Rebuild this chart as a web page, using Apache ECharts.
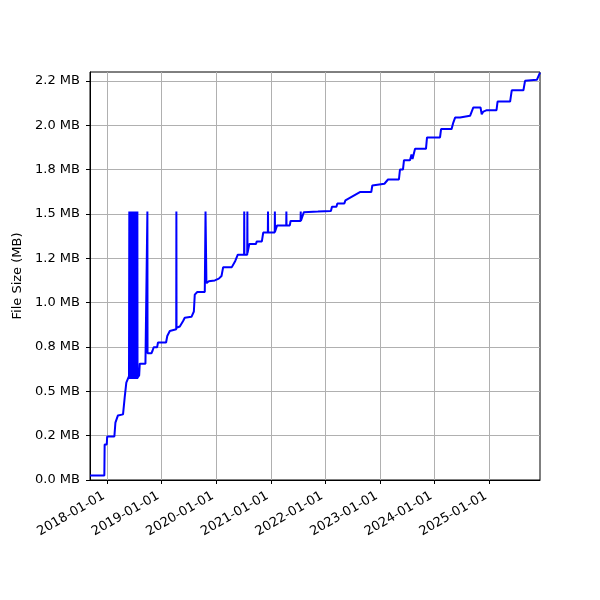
<!DOCTYPE html>
<html>
<head>
<meta charset="utf-8">
<script src="https://cdn.jsdelivr.net/npm/echarts@6/dist/echarts.min.js"></script>
<style>html,body{margin:0;padding:0;background:#fff}#chart{width:600px;height:600px}</style>
</head>
<body>
<div id="chart"></div>
<script>
const dates = [
'2017-09-08','2017-12-13','2017-12-15','2017-12-29','2018-01-01','2018-02-18','2018-02-25','2018-03-14','2018-04-17','2018-04-28','2018-05-09','2018-05-27',
'2018-05-29','2018-05-30','2018-05-31','2018-06-01','2018-06-02','2018-06-03','2018-06-04','2018-06-05','2018-06-06','2018-06-07','2018-06-08','2018-06-09',
'2018-06-10','2018-06-11','2018-06-12','2018-06-13','2018-06-14','2018-06-15','2018-06-16','2018-06-17','2018-06-18','2018-06-19','2018-06-20','2018-06-21',
'2018-06-22','2018-06-23','2018-06-24','2018-06-25','2018-06-26','2018-06-27','2018-06-28','2018-06-29','2018-06-30','2018-07-01','2018-07-02','2018-07-03',
'2018-07-04','2018-07-05','2018-07-06','2018-07-07','2018-07-08','2018-07-09','2018-07-10','2018-07-11','2018-07-12','2018-07-13','2018-07-14','2018-07-15',
'2018-07-16','2018-07-17','2018-07-18','2018-07-19','2018-07-20','2018-07-21','2018-07-22','2018-07-23',
'2018-08-03','2018-08-07','2018-09-14','2018-09-27','2018-09-28','2018-10-24','2018-11-01','2018-11-06','2018-11-08','2018-12-01','2018-12-07','2019-01-30',
'2019-02-07','2019-02-24','2019-04-08','2019-04-09','2019-04-10','2019-05-02','2019-05-24','2019-06-04','2019-07-19','2019-08-04','2019-08-10','2019-08-27',
'2019-10-16','2019-10-21','2019-10-27','2019-11-12','2019-12-22','2020-01-18','2020-02-05','2020-02-16','2020-04-14','2020-05-07','2020-05-24','2020-07-05',
'2020-07-06','2020-07-07','2020-07-26','2020-07-27','2020-07-28','2020-08-01','2020-08-09','2020-09-22','2020-09-28','2020-11-01','2020-11-10','2020-12-11',
'2020-12-12','2020-12-13','2021-01-26','2021-01-27','2021-01-28','2021-02-11','2021-04-13','2021-04-14','2021-04-15','2021-05-07','2021-05-12','2021-07-18',
'2021-07-19','2021-07-20','2021-08-02','2021-08-09','2021-11-11','2022-02-06','2022-02-13','2022-03-15','2022-03-21','2022-05-07','2022-05-14','2022-08-19',
'2022-11-03','2022-11-10','2023-01-30','2023-02-23','2023-05-07','2023-05-14','2023-06-03','2023-06-10','2023-07-20','2023-07-30','2023-08-06','2023-08-23',
'2023-11-04','2023-11-11','2024-02-06','2024-02-13','2024-04-23','2024-05-05','2024-05-17','2024-06-19','2024-06-26','2024-08-25','2024-09-05','2024-09-16',
'2024-11-03','2024-11-11','2024-11-22','2024-12-15','2025-02-18','2025-02-25','2025-05-20','2025-05-31','2025-08-17','2025-08-28','2025-11-15','2025-12-06'
];
const sizes = [
0.025,0.025,0.2,0.2,0.245,0.245,0.323,0.364,0.37,0.464,0.549,0.586,
1.513,0.57,1.513,0.57,1.513,0.57,1.513,0.57,1.513,0.57,1.513,0.57,
1.513,0.57,1.513,0.57,1.513,0.57,1.513,0.57,1.513,0.57,1.513,0.57,
1.513,0.57,1.513,0.57,1.513,0.57,1.513,0.57,1.513,0.57,1.513,0.57,
1.513,0.57,1.513,0.57,1.513,0.57,1.513,0.57,1.513,0.57,1.513,0.57,
1.513,0.57,1.513,0.57,1.513,0.57,1.513,0.577,
0.59,0.656,0.656,1.513,0.714,0.714,0.73,0.73,0.748,0.748,0.775,0.775,
0.812,0.84,0.85,1.513,0.858,0.865,0.896,0.915,0.92,0.95,1.045,1.06,
1.06,1.513,1.11,1.12,1.125,1.135,1.15,1.2,1.2,1.235,1.27,1.27,
1.513,1.27,1.27,1.513,1.28,1.28,1.33,1.33,1.345,1.345,1.395,1.395,
1.513,1.395,1.395,1.513,1.4,1.435,1.435,1.513,1.435,1.435,1.46,1.46,
1.513,1.46,1.46,1.51,1.513,1.516,1.54,1.54,1.559,1.559,1.576,1.623,
1.623,1.66,1.67,1.694,1.694,1.75,1.75,1.803,1.803,1.835,1.81,1.867,
1.867,1.931,1.931,1.978,1.978,2.015,2.043,2.043,2.053,2.053,2.077,2.1,
2.1,2.062,2.077,2.085,2.085,2.133,2.133,2.197,2.197,2.25,2.256,2.297
];
const xTickLabels = ['2018-01-01','2019-01-01','2020-01-01','2021-01-01','2022-01-01','2023-01-01','2024-01-01','2025-01-01'];
const yTickValues = [0,0.25,0.5,0.75,1.0,1.25,1.5,1.75,2.0,2.25];
const yTickLabels = ['0.0 MB','0.2 MB','0.5 MB','0.8 MB','1.0 MB','1.2 MB','1.5 MB','1.8 MB','2.0 MB','2.2 MB'];
const xMin = '2017-09-08', xMax = '2025-12-06';
const yMin = 0, yMax = 2.3;

const toMs = s => echarts.time.parse(s).getTime();
const chart = echarts.init(document.getElementById('chart'), null, {renderer: 'canvas'});
const xTickVals = xTickLabels.map(toMs);
const data = dates.map((d, i) => [toMs(d), sizes[i]]);
const font = 'DejaVu Sans';
chart.setOption({
  animation: false,
  backgroundColor: '#fff',
  grid: {left: 90, right: 60, top: 72, bottom: 120, show: true, borderColor: '#000', borderWidth: 1, backgroundColor: 'transparent'},
  xAxis: {
    type: 'value',
    min: toMs(xMin),
    max: toMs(xMax),
    axisLine: {show: true, lineStyle: {color: '#000', width: 1}},
    axisTick: {show: true, length: 4, lineStyle: {color: '#000'}, customValues: xTickVals},
    axisLabel: {
      customValues: xTickVals,
      rotate: 30, margin: 13, padding: [0, 4, 0, 0],
      color: '#000', fontSize: 13, fontFamily: font,
      formatter: v => { const i = xTickVals.indexOf(v); return i >= 0 ? xTickLabels[i] : ''; }
    },
    splitLine: {show: true, lineStyle: {color: '#b0b0b0', width: 1}}
  },
  yAxis: {
    type: 'value',
    min: yMin, max: yMax,
    name: 'File Size (MB)', nameLocation: 'middle', nameGap: 58,
    nameTextStyle: {color: '#000', fontSize: 13, fontFamily: font},
    axisLine: {show: true, lineStyle: {color: '#000', width: 1}},
    axisTick: {show: true, length: 4, lineStyle: {color: '#000'}, customValues: yTickValues},
    axisLabel: {
      customValues: yTickValues, margin: 10,
      color: '#000', fontSize: 13, fontFamily: font,
      formatter: v => { const i = yTickValues.findIndex(t => Math.abs(t - v) < 1e-6); return i >= 0 ? yTickLabels[i] : ''; }
    },
    splitLine: {show: true, lineStyle: {color: '#b0b0b0', width: 1}}
  },
  series: [{
    type: 'line', data: data, showSymbol: false, symbol: 'none',
    lineStyle: {color: '#0000ff', width: 2, join: 'bevel'}, clip: true
  }]
});
</script>
</body>
</html>
